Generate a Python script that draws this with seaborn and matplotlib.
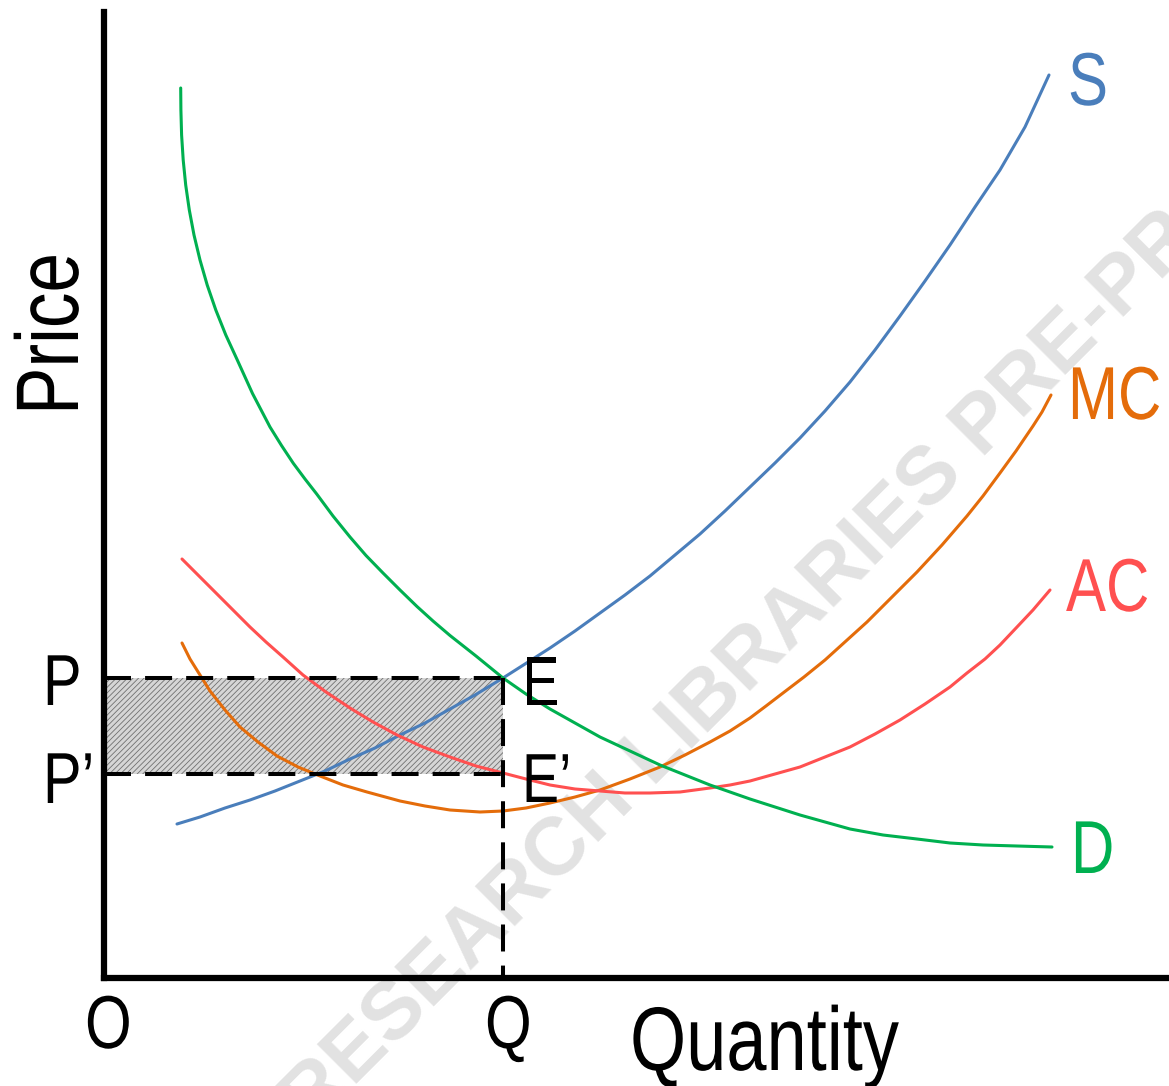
import matplotlib
matplotlib.use('Agg')
import matplotlib.pyplot as plt
import seaborn as sns
import pandas as pd
from matplotlib.patheffects import AbstractPathEffect
from matplotlib.transforms import Affine2D

# Curve points (quantity, price)
s_q = [7.3, 9.6, 12.1, 14.6, 17.1, 19.6, 22.1, 24.6, 27.1, 29.6, 32.1, 34.6, 37.1, 39.9, 42.1, 44.6, 47.1, 49.6,
       52.1, 54.6, 57.1, 59.6, 62.1, 64.6, 67.1, 69.6, 72.1, 74.6, 77.1, 79.6, 82.1, 84.6, 87.1, 89.6, 92.1, 94.5]
s_p = [15.4, 16.1, 17.0, 17.8, 18.7, 19.7, 20.7, 21.9, 23.0, 24.3, 25.5, 26.9, 28.3, 30.0, 31.4, 33.0, 34.7, 36.5,
       38.3, 40.2, 42.3, 44.4, 46.7, 49.1, 51.5, 54.0, 56.7, 59.6, 62.8, 66.2, 69.7, 73.3, 77.1, 80.8, 85.1, 90.3]

d_q = [7.67, 7.69, 7.76, 7.92, 8.17, 8.53, 9.0, 9.6, 10.32, 11.18, 12.18, 13.33, 14.85, 16.6, 17.75, 18.93, 20.1,
       21.27, 22.9, 24.6, 26.2, 27.9, 29.6, 31.3, 32.9, 34.6, 37.2, 39.9, 42.2, 44.6, 47.1, 49.6, 52.6, 55.6, 58.1,
       60.6, 62.6, 64.6, 67.1, 69.6, 72.1, 74.6, 77.9, 81.3, 84.6, 87.9, 91.3, 94.8]
d_p = [89.0, 86.8, 84.3, 81.8, 79.3, 76.8, 74.3, 71.8, 69.3, 66.8, 64.3, 61.8, 58.45, 55.1, 53.25, 51.47, 49.9,
       48.4, 46.2, 44.1, 42.25, 40.5, 38.8, 37.15, 35.7, 34.25, 32.2, 30.0, 28.4, 26.9, 25.5, 24.1, 22.7, 21.3, 20.3,
       19.3, 18.6, 17.9, 17.1, 16.3, 15.6, 14.9, 14.3, 13.9, 13.5, 13.3, 13.2, 13.1]

mc_q = [7.8, 8.6, 9.6, 10.6, 12.1, 13.6, 15.4, 17.3, 19.4, 21.6, 23.9, 26.3, 29.6, 32.1, 34.6, 37.6, 39.9, 42.2, 44.6,
        47.1, 49.6, 52.6, 55.6, 58.1, 60.6, 62.6, 64.6, 66.2, 67.9, 70.0, 72.1, 74.2, 76.3, 78.8, 81.3, 83.8, 86.3,
        87.9, 89.6, 91.2, 92.9, 93.8, 94.7]
mc_p = [33.5, 31.9, 30.3, 28.7, 26.8, 25.1, 23.6, 22.2, 21.1, 20.2, 19.3, 18.6, 17.7, 17.2, 16.8, 16.6, 16.7, 17.0, 17.5,
        18.1, 18.8, 19.9, 21.1, 22.3, 23.6, 24.7, 26.0, 27.2, 28.5, 30.1, 31.8, 33.7, 35.6, 38.1, 40.6, 43.3, 46.2,
        48.2, 50.5, 52.7, 55.2, 56.6, 58.3]

ac_q = [7.8, 9.6, 11.3, 12.9, 14.6, 16.2, 17.9, 19.9, 22.2, 24.6, 26.9, 29.3, 31.9, 34.6, 37.2, 39.9, 42.2, 44.6, 47.1,
        49.6, 52.1, 54.6, 57.6, 60.6, 62.6, 64.6, 67.1, 69.6, 72.1, 74.6, 77.1, 79.6, 82.1, 84.6, 86.3, 88.1, 89.6,
        91.3, 92.9, 94.6]
ac_p = [41.9, 40.1, 38.4, 36.8, 35.1, 33.6, 32.1, 30.3, 28.6, 27.0, 25.6, 24.3, 23.1, 22.1, 21.2, 20.5, 19.9, 19.3, 18.9,
        18.7, 18.5, 18.5, 18.6, 19.0, 19.3, 19.7, 20.4, 21.1, 22.1, 23.1, 24.4, 25.8, 27.4, 29.1, 30.5, 31.9, 33.3,
        35.1, 36.8, 38.8]

q_eq = 39.9     # Q
p_eq = 30.0     # P (point E)
p_ac = 20.4     # P' (point E')

colors = {'S': '#4a7ebb', 'MC': '#e46c0a', 'AC': '#ff5050', 'D': '#00b050'}

curves = pd.concat([
    pd.DataFrame({'q': s_q, 'p': s_p, 'curve': 'S'}),
    pd.DataFrame({'q': mc_q, 'p': mc_p, 'curve': 'MC'}),
    pd.DataFrame({'q': ac_q, 'p': ac_p, 'curve': 'AC'}),
    pd.DataFrame({'q': d_q, 'p': d_p, 'curve': 'D'}),
])


class Narrow(AbstractPathEffect):
    """Squeeze glyphs along the text direction (Arial Narrow look)."""
    def __init__(self, sx=0.8):
        super().__init__()
        self.sx = sx

    def draw_path(self, renderer, gc, tpath, affine, rgbFace=None):
        renderer.draw_path(gc, tpath, Affine2D().scale(self.sx, 1.0) + affine, rgbFace)


sns.set_style('white')
plt.rcParams['font.family'] = ['Liberation Sans', 'DejaVu Sans']
plt.rcParams['text.color'] = 'black'
plt.rcParams['hatch.linewidth'] = 0.6

fig = plt.figure(figsize=(11.69, 10.86), dpi=100)
ax = fig.add_axes([104 / 1169, 108 / 1086, 1 - 104 / 1169, 966 / 1086])
ax.set_xlim(0, 106.5)
ax.set_ylim(0, 96.6)

# watermark
ax.text(19.2, -13.6, 'RESEARCH LIBRARIES PRE-PROOF', rotation=45, rotation_mode='anchor',
        ha='left', va='center', fontsize=59, fontweight='bold', color='#e2e2e2',
        zorder=0, clip_on=False)

# shaded area between P and P'
ax.fill_between([0, q_eq], [p_ac, p_ac], [p_eq, p_eq], facecolor='#d6d6d6', edgecolor='#707070',
                hatch='//////', linewidth=0, zorder=1)

sns.lineplot(data=curves, x='q', y='p', hue='curve', palette=colors, sort=False, estimator=None,
             linewidth=2.2, legend=False, ax=ax, zorder=3)

dash = (0, (6.7, 3.5))
ax.plot([0, q_eq], [p_eq, p_eq], color='black', lw=2.9, linestyle=dash, zorder=4)
ax.plot([0, q_eq], [p_ac, p_ac], color='black', lw=2.9, linestyle=dash, zorder=4)
ax.plot([q_eq, q_eq], [p_eq, 0], color='black', lw=2.9, linestyle=dash, zorder=4)

for side in ['top', 'right']:
    ax.spines[side].set_visible(False)
for side in ['left', 'bottom']:
    ax.spines[side].set_linewidth(4.5)
    ax.spines[side].set_color('black')
    ax.spines[side].set_zorder(5)
ax.set_xticks([])
ax.set_yticks([])
ax.set_xlabel('')
ax.set_ylabel('')

narrow = [Narrow(0.8)]


def label(x, y, s, size, color='black', **kw):
    ax.text(x, y, s, ha='left', va='baseline', fontsize=size, color=color,
            path_effects=narrow, clip_on=False, zorder=6, **kw)


# axis titles and point labels
label(-2.6, 56.3, 'Price', 64, rotation=90, rotation_mode='anchor')
label(52.6, -9.2, 'Quantity', 65)
label(-1.9, -7.0, 'O', 54)
label(38.1, -7.0, 'Q', 54)
label(-6.1, 27.3, 'P', 52)
label(-6.1, 17.5, 'P’', 52)
label(41.8, 27.3, 'E', 50)
label(41.8, 17.6, 'E’', 50)

label(96.4, 87.3, 'S', 54, colors['S'])
label(96.4, 55.9, 'MC', 54, colors['MC'])
label(96.2, 36.7, 'AC', 54, colors['AC'])
label(96.7, 10.5, 'D', 54, colors['D'])

fig.savefig('out.png', dpi=100)
